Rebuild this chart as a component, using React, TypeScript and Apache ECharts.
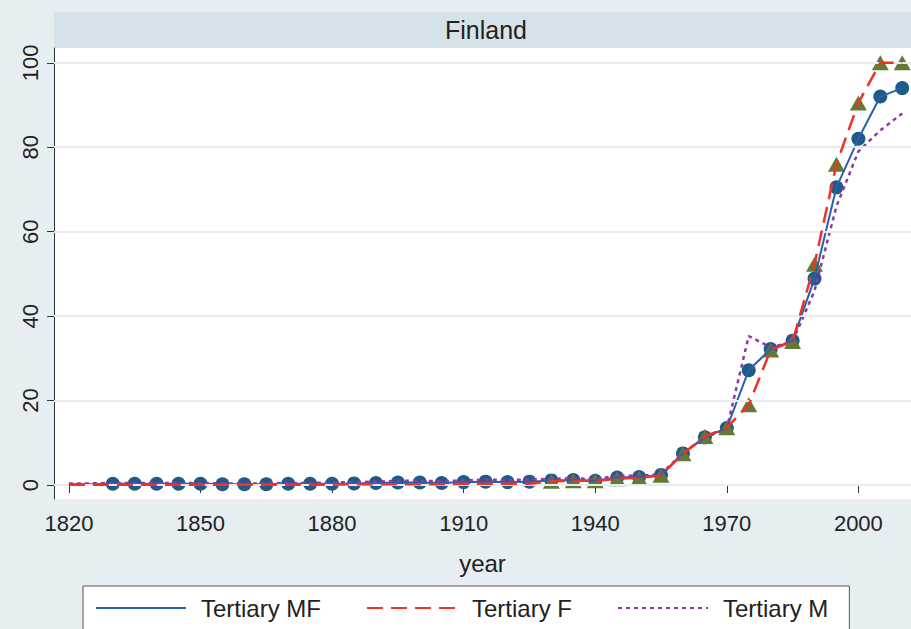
import React, { useEffect, useRef } from "react";
import * as echarts from "echarts";

const years = [
  1820, 1825, 1830, 1835, 1840, 1845, 1850, 1855, 1860, 1865,
  1870, 1875, 1880, 1885, 1890, 1895, 1900, 1905, 1910, 1915,
  1920, 1925, 1930, 1935, 1940, 1945, 1950, 1955, 1960, 1965,
  1970, 1975, 1980, 1985, 1990, 1995, 2000, 2005, 2010,
];

const tertiaryMF = [
  0.2, 0.2, 0.3, 0.3, 0.3, 0.3, 0.3, 0.2, 0.2, 0.2,
  0.3, 0.3, 0.3, 0.4, 0.5, 0.6, 0.6, 0.5, 0.7, 0.8,
  0.7, 0.8, 1.1, 1.2, 1.0, 1.8, 1.9, 2.4, 7.5, 11.3,
  13.5, 27.2, 32.2, 34.2, 48.9, 70.5, 82.0, 92.0, 94.0,
];

const tertiaryF = [
  0.1, 0.1, 0.1, 0.1, 0.1, 0.1, 0.1, 0.1, 0.1, 0.1,
  0.1, 0.1, 0.1, 0.2, 0.2, 0.2, 0.2, 0.2, 0.3, 0.3,
  0.3, 0.3, 0.9, 1.0, 1.0, 1.5, 1.7, 2.3, 7.4, 11.5,
  13.6, 19.0, 32.0, 34.0, 52.3, 76.0, 90.5, 100.0, 100.0,
];

const tertiaryM = [
  0.4, 0.4, 0.5, 0.5, 0.5, 0.5, 0.5, 0.4, 0.4, 0.4,
  0.5, 0.5, 0.6, 0.7, 0.8, 1.0, 1.0, 0.9, 1.1, 1.3,
  1.2, 1.3, 1.5, 1.6, 1.4, 2.2, 2.2, 2.6, 7.6, 11.2,
  13.4, 35.3, 32.6, 34.0, 46.0, 66.0, 79.0, 84.0, 88.0,
];

const xTicks = [1820, 1850, 1880, 1910, 1940, 1970, 2000];
const yTicks = [0, 20, 40, 60, 80, 100];
const mfMarkersFrom = 1830;
const fMarkersFrom = 1930;

const FONT = "'Liberation Sans', Arial, Helvetica, sans-serif";

export default function App() {
  const ref = useRef<HTMLDivElement>(null);

  useEffect(() => {
    document.body.style.margin = "0";
    if (!ref.current) return;
    const chart = echarts.init(ref.current, null, { renderer: "svg" });

    const pairs = (vals: number[]) => years.map((y, i) => [y, vals[i]]);
    const pairsFrom = (vals: number[], from: number) =>
      years.map((y, i) => [y, vals[i]]).filter((p) => p[0] >= from);

    chart.setOption({
      animation: false,
      backgroundColor: "#e6eef1",
      textStyle: { fontFamily: FONT },
      grid: {
        left: 54,
        right: 0,
        top: 48,
        bottom: 130,
        show: true,
        backgroundColor: "#ffffff",
        borderWidth: 0,
        containLabel: false,
        outerBoundsMode: "none",
      },
      graphic: [
        {
          type: "rect",
          shape: { x: 54, y: 12, width: 857, height: 36 },
          style: { fill: "#d6e2e9" },
          silent: true,
        },
        {
          type: "text",
          x: 486,
          y: 30,
          style: {
            text: "Finland",
            fontSize: 25,
            fontFamily: FONT,
            fill: "#222222",
            textAlign: "center",
            textVerticalAlign: "middle",
          },
        },
      ],
      legend: {
        data: ["Tertiary MF", "Tertiary F", "Tertiary M"],
        left: 83,
        top: 586,
        orient: "horizontal",
        backgroundColor: "#ffffff",
        borderColor: "#555555",
        borderWidth: 1,
        borderRadius: 0,
        padding: [10, 21, 10, 12],
        itemWidth: 90,
        itemHeight: 24,
        itemGap: 45,
        itemStyle: { opacity: 0 },
        textStyle: {
          fontSize: 24,
          color: "#222222",
          fontFamily: FONT,
          padding: [0, 0, 0, 10],
        },
      },
      xAxis: {
        type: "value",
        min: 1816.6,
        max: 2012,
        name: "year",
        nameLocation: "middle",
        nameGap: 52,
        nameTextStyle: { fontSize: 24, color: "#222222", fontFamily: FONT },
        axisLine: { show: true, lineStyle: { color: "#333333", width: 1 } },
        axisTick: {
          show: true,
          length: 8,
          customValues: xTicks,
          lineStyle: { color: "#333333", width: 1 },
        },
        axisLabel: {
          customValues: xTicks,
          fontSize: 22,
          color: "#222222",
          margin: 13,
          fontFamily: FONT,
          formatter: (v: number) => String(v),
        },
        splitLine: { show: false },
      },
      yAxis: {
        type: "value",
        min: -3.3,
        max: 103.5,
        axisLine: { show: true, lineStyle: { color: "#333333", width: 1 } },
        axisTick: {
          show: true,
          length: 7,
          customValues: yTicks,
          lineStyle: { color: "#333333", width: 1 },
        },
        axisLabel: {
          customValues: yTicks,
          rotate: 90,
          fontSize: 22,
          color: "#222222",
          margin: 13,
          fontFamily: FONT,
          formatter: (v: number) => String(v),
        },
        splitLine: { show: false },
      },
      series: [
        {
          name: "grid",
          type: "line",
          data: [],
          z: 1,
          silent: true,
          markLine: {
            silent: true,
            symbol: ["none", "none"],
            label: { show: false },
            lineStyle: { color: "#e6ecf0", width: 2, type: "solid" },
            data: yTicks.map((v) => ({ yAxis: v })),
          },
        },
        {
          name: "MF markers",
          type: "scatter",
          data: pairsFrom(tertiaryMF, mfMarkersFrom),
          symbol: "circle",
          symbolSize: 14,
          itemStyle: { color: "#1f5a88", opacity: 1 },
          z: 2,
          silent: true,
        },
        {
          name: "F markers",
          type: "scatter",
          data: pairsFrom(tertiaryF, fMarkersFrom),
          symbol: "triangle",
          symbolSize: [17, 15],
          itemStyle: { color: "#617a35", opacity: 1 },
          z: 2,
          silent: true,
        },
        {
          name: "Tertiary MF",
          type: "line",
          data: pairs(tertiaryMF),
          symbol: "none",
          color: "#2a5fae",
          lineStyle: { color: "#2a5fae", width: 2 },
          z: 3,
        },
        {
          name: "Tertiary M",
          type: "line",
          data: pairs(tertiaryM),
          symbol: "none",
          color: "#8e3a9f",
          lineStyle: { color: "#8e3a9f", width: 2.5, type: [4, 4] },
          z: 4,
        },
        {
          name: "Tertiary F",
          type: "line",
          data: pairs(tertiaryF),
          symbol: "none",
          color: "#ee3226",
          lineStyle: { color: "#ee3226", width: 2.5, type: [16, 8] },
          z: 5,
        },
      ],
    });

    return () => chart.dispose();
  }, []);

  return <div ref={ref} style={{ width: 911, height: 629 }} />;
}
